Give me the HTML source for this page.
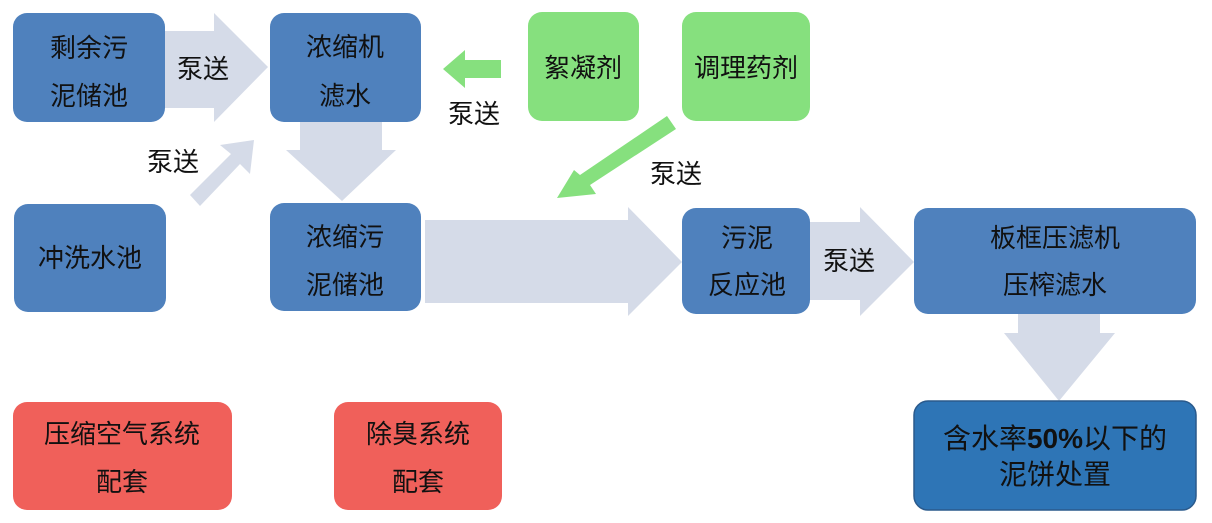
<!DOCTYPE html>
<html><head><meta charset="utf-8"><style>
html,body{margin:0;padding:0;background:#fff;}
svg{display:block;}
text{font-family:"Liberation Sans","Noto Sans CJK SC",sans-serif;font-size:26px;fill:#111;}
</style></head><body>
<svg width="1212" height="523" viewBox="0 0 1212 523">
<g fill="#d5dbe8">
<polygon points="160,31 214,31 214,13 268,67 214,122 214,108 160,108"/>
<polygon points="190,195 231,154 220,145 254,140 250,174 240,164 200,206"/>
<polygon points="300,118 382,118 382,150 396,150 342,201 286,150 300,150"/>
<polygon points="425,220 628,220 628,207 682,262 628,316 628,303 425,303"/>
<polygon points="806,222 860,222 860,207 914,262 860,316 860,300 806,300"/>
<polygon points="1018,312 1100,312 1100,333 1115,333 1059,401 1004,333 1018,333"/>
</g>
<g fill="#86e07e">
<polygon points="501,60 465,60 465,50 443,69 465,88 465,78 501,78"/>
<polygon points="667,116 676,129 590,185 596,194 557,198 574,170 580,175"/>
</g>
<g fill="#4f81bd">
<rect x="13" y="13" width="152" height="109" rx="14"/>
<rect x="270" y="13" width="151" height="109" rx="14"/>
<rect x="14" y="204" width="152" height="108" rx="14"/>
<rect x="270" y="203" width="151" height="108" rx="14"/>
<rect x="682" y="208" width="128" height="106" rx="14"/>
<rect x="914" y="208" width="282" height="106" rx="14"/>
</g>
<rect x="914" y="401" width="282" height="109" rx="14" fill="#2e75b6" stroke="#2a5a8c" stroke-width="1.5"/>
<g fill="#86e07e">
<rect x="528" y="12" width="111" height="109" rx="14"/>
<rect x="682" y="12" width="128" height="109" rx="14"/>
</g>
<g fill="#f0605a">
<rect x="13" y="402" width="219" height="108" rx="14"/>
<rect x="334" y="402" width="168" height="108" rx="14"/>
</g>
<g text-anchor="middle">
<text x="89" y="57">剩余污</text><text x="89" y="105">泥储池</text>
<text x="345" y="56">浓缩机</text><text x="345" y="105">滤水</text>
<text x="90" y="267">冲洗水池</text>
<text x="345" y="246">浓缩污</text><text x="345" y="294">泥储池</text>
<text x="583" y="77">絮凝剂</text>
<text x="746" y="77">调理药剂</text>
<text x="747" y="247">污泥</text><text x="747" y="294">反应池</text>
<text x="1055" y="247">板框压滤机</text><text x="1055" y="294">压榨滤水</text>
<text x="1055" y="448" style="font-size:28px">含水率<tspan font-weight="bold">50%</tspan>以下的</text><text x="1055" y="484" style="font-size:28px">泥饼处置</text>
<text x="122" y="443">压缩空气系统</text><text x="122" y="491">配套</text>
<text x="418" y="443">除臭系统</text><text x="418" y="491">配套</text>
<text x="203" y="78">泵送</text>
<text x="474" y="123">泵送</text>
<text x="173" y="171">泵送</text>
<text x="676" y="183">泵送</text>
<text x="849" y="270">泵送</text>
</g>
</svg>
</body></html>
